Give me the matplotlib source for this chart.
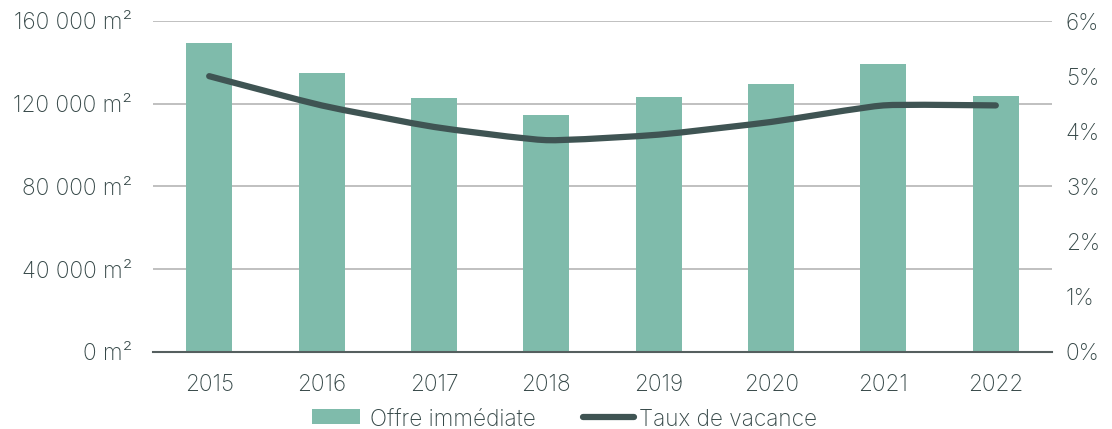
import matplotlib
matplotlib.use("Agg")
import matplotlib.pyplot as plt
from matplotlib.path import Path
from matplotlib.patches import PathPatch, Rectangle
from matplotlib.lines import Line2D
import numpy as np

years = ["2015", "2016", "2017", "2018", "2019", "2020", "2021", "2022"]
offre = [149500, 135000, 122600, 114700, 123100, 129500, 139100, 123600]
taux = [5.0, 4.47, 4.08, 3.84, 3.94, 4.17, 4.47, 4.47]
left_ticks = [0, 40000, 80000, 120000, 160000]
left_labels = ["0 m²", "40 000 m²", "80 000 m²", "120 000 m²", "160 000 m²"]
right_ticks = [0, 1, 2, 3, 4, 5, 6]
right_labels = ["0%", "1%", "2%", "3%", "4%", "5%", "6%"]
legend_labels = ["Offre immédiate", "Taux de vacance"]

bar_color = "#7fbbab"
line_color = "#3f5453"
text_color = "#364848"

plt.rcParams['font.family'] = ['Inter', 'DejaVu Sans']
plt.rcParams['font.weight'] = 'light'

W, H = 1112, 429
fig = plt.figure(figsize=(W/100, H/100), dpi=100)
ax = fig.add_axes([153/W, 1-352/H, (1052-153)/W, (352-21)/H])
x = np.arange(len(years))
ax.bar(x, offre, width=0.41, color=bar_color, zorder=2)
ax.set_xlim(-0.5, len(years)-0.5)
ax.set_ylim(0, 160000)
ax.set_yticks(left_ticks)
ax.set_yticklabels(left_labels)
ax.set_xticks(x)
ax.set_xticklabels(years)
ax.grid(axis='y', color="#b5b5b5", linewidth=1.2, zorder=0)
for s in ['top', 'right', 'left']:
    ax.spines[s].set_visible(False)
ax.spines['bottom'].set_color("#555f5f")
ax.spines['bottom'].set_linewidth(1.5)
ax.spines['bottom'].set_zorder(3)
ax.tick_params(axis='both', length=0, labelsize=16.3, colors=text_color)
ax.tick_params(axis='y', pad=15)
ax.tick_params(axis='x', pad=16)

ax2 = ax.twinx()
ax2.set_ylim(0, 6)
ax2.set_yticks(right_ticks)
ax2.set_yticklabels(right_labels)
for s in ax2.spines.values():
    s.set_visible(False)
ax2.tick_params(axis='y', length=0, labelsize=16.3, colors=text_color, pad=10)

# smoothed line (Catmull-Rom -> cubic Bezier) through data points
pts = np.column_stack([x, taux]).astype(float)
verts = [tuple(pts[0])]
codes = [Path.MOVETO]
n = len(pts)
for i in range(n-1):
    p0 = pts[max(i-1, 0)]
    p1 = pts[i]
    p2 = pts[i+1]
    p3 = pts[min(i+2, n-1)]
    c1 = p1 + (p2 - p0) / 6.0 * 0.5
    c2 = p2 - (p3 - p1) / 6.0 * 0.5
    verts += [tuple(c1), tuple(c2), tuple(p2)]
    codes += [Path.CURVE4, Path.CURVE4, Path.CURVE4]
patch = PathPatch(Path(verts, codes), facecolor='none', edgecolor=line_color,
                  linewidth=4.5, capstyle='round', joinstyle='round', zorder=4)
ax2.add_patch(patch)

# legend drawn in figure coordinates
ly = 1 - 417/H
ty = 1 - 420/H
fig.add_artist(Rectangle((312/W, 1-424/H), 48/W, 15/H, transform=fig.transFigure,
                         facecolor=bar_color, edgecolor='none'))
fig.text(370/W, ty, legend_labels[0], ha='left', va='center', fontsize=16.3,
         color=text_color)
fig.add_artist(Line2D([583/W, 634/W], [ly, ly], transform=fig.transFigure,
                      color=line_color, linewidth=4.5, solid_capstyle='round'))
fig.text(639/W, ty, legend_labels[1], ha='left', va='center', fontsize=16.3,
         color=text_color)

fig.savefig("out.png", dpi=100)
